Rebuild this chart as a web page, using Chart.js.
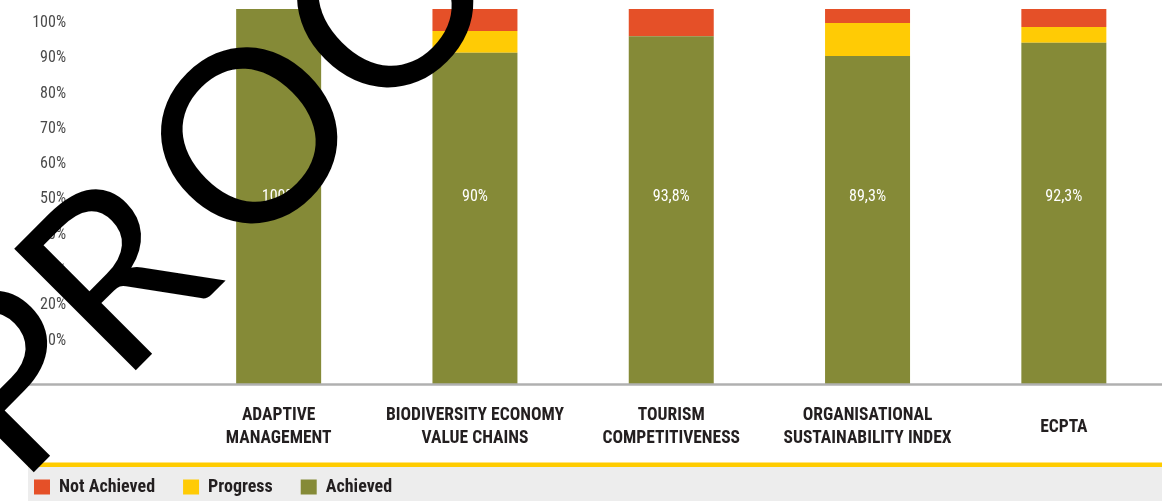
<!DOCTYPE html>
<html><head><meta charset="utf-8">
<script src="https://cdn.jsdelivr.net/npm/chart.js@4.4.1/dist/chart.umd.min.js"></script>
<style>html,body{margin:0;padding:0;background:#fff;overflow:hidden}#wrap{width:1167px;height:501px;position:relative}</style>
</head><body><div id="wrap"><canvas id="c" width="1167" height="501"></canvas></div>
<script>
const categories = [["ADAPTIVE","MANAGEMENT"],["BIODIVERSITY ECONOMY","VALUE CHAINS"],["TOURISM","COMPETITIVENESS"],["ORGANISATIONAL","SUSTAINABILITY INDEX"],"ECPTA"];
const achieved = [100, 90, 93.8, 89.3, 92.3];
const progress = [0, 5, 0, 7.5, 3.6];
const notAchieved = [0, 5, 6.2, 3.2, 4.1];
const yTickValues = [10, 20, 30, 40, 50, 60, 70, 80, 90, 100];
const seriesNames = ["Achieved", "Progress", "Not Achieved"];
const seriesColors = ["#858a37", "#ffcb05", "#e55028"];
const watermarkText = "PROOF";

const NARROW = "'Roboto Condensed','Open Sans',sans-serif";
const fmtPct = v => String(v).replace('.', ',') + '%';

const decor = {
  id: 'decor',
  afterLayout(chart) {
    const L = chart.legend, h = L.bottom - L.top;
    L.top = chart.height - 51; L.bottom = L.top + h;
  },
  beforeDraw(chart) {
    const {ctx, chartArea} = chart;
    const left = 28, right = chartArea.right;
    const bandTop = chart.height - 34;
    ctx.save();
    ctx.fillStyle = '#ededed';
    ctx.fillRect(left, bandTop, right - left, chart.height - bandTop);
    ctx.fillStyle = '#ffcc00';
    ctx.fillRect(left, bandTop - 4.5, right - left, 4.5);
    ctx.restore();
  },
  afterDatasetsDraw(chart) {
    const {ctx, chartArea} = chart;
    ctx.save();
    ctx.strokeStyle = '#b0b0b0'; ctx.lineWidth = 2.5;
    ctx.beginPath(); ctx.moveTo(28, chartArea.bottom + 0.5); ctx.lineTo(chartArea.right, chartArea.bottom + 0.5); ctx.stroke();
    const meta = chart.getDatasetMeta(0);
    ctx.fillStyle = '#ffffff';
    ctx.font = '16px ' + NARROW;
    ctx.textAlign = 'center'; ctx.textBaseline = 'middle';
    const yMid = (chartArea.top + chartArea.bottom) / 2;
    meta.data.forEach((bar, i) => ctx.fillText(fmtPct(achieved[i]), bar.x, yMid));
    ctx.restore();
  },
  afterDraw(chart) {
    const {ctx} = chart;
    ctx.save();
    ctx.font = '400 240px Lato';
    ctx.fillStyle = '#000';
    ctx.translate(310, 196);
    ctx.rotate(-Math.PI / 4);
    ctx.textBaseline = 'alphabetic'; ctx.textAlign = 'left';
    const head = watermarkText.slice(0, 2), tail = watermarkText.slice(2);
    const wHead = ctx.measureText(head).width, wO = ctx.measureText(tail[0]).width;
    ctx.fillText(head, -wHead - wO / 2 - 22, 0);
    ctx.fillText(tail, -wO / 2, 0);
    ctx.restore();
  }
};

const values = [achieved, progress, notAchieved];
new Chart(document.getElementById('c'), {
  type: 'bar',
  data: {
    labels: categories,
    datasets: seriesNames.map((n, i) => ({
      label: n, data: values[i], backgroundColor: seriesColors[i], borderWidth: 0,
      yAxisID: 'yb', clip: 0, barPercentage: 0.433, categoryPercentage: 1
    }))
  },
  options: {
    responsive: false, animation: false,
    layout: { padding: { left: 6, right: 5, top: 9, bottom: 0 } },
    plugins: {
      tooltip: { enabled: false },
      legend: {
        position: 'bottom', align: 'start', reverse: true,
        labels: { boxWidth: 16, boxHeight: 15, padding: 28, color: '#231f20',
          font: { family: NARROW, size: 18, weight: 'bold' } }
      }
    },
    scales: {
      x: {
        stacked: true,
        grid: { display: false, drawTicks: false }, border: { display: false },
        ticks: { color: '#231f20', padding: 32, crossAlign: 'center', maxRotation: 0, autoSkip: false,
          font: { family: NARROW, size: 17.5, weight: 'bold', lineHeight: 23 / 17.5 } },
        afterFit(s) { s.height = 61; }
      },
      y: {
        position: 'left', min: -2.3, max: 104,
        grid: { display: false, drawTicks: false }, border: { display: false },
        afterBuildTicks(s) { s.ticks = yTickValues.map(v => ({ value: v })); },
        ticks: { color: '#4a4a4a', padding: 114.5, callback: v => v + '%',
          font: { family: NARROW, size: 16 } },
        afterFit(s) { s.width = 174.5; s.paddingTop = 0; s.paddingBottom = 0; }
      },
      yb: {
        display: false, stacked: true, min: 14.4, max: 100
      }
    }
  },
  plugins: [decor]
});
</script></body></html>
